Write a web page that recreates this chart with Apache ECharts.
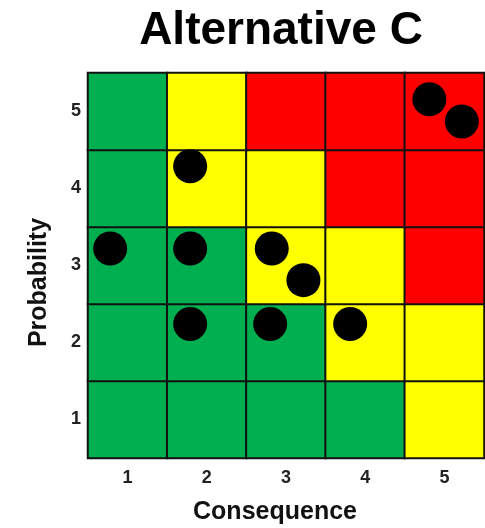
<!DOCTYPE html>
<html><head><meta charset="utf-8">
<script src="https://cdn.jsdelivr.net/npm/echarts@6/dist/echarts.min.js"></script>
<style>html,body{margin:0;padding:0;background:#fff}#c{width:485px;height:528px}</style>
</head><body><div id="c"></div>
<script>
const consequenceLabels = ['1','2','3','4','5'];
const probabilityLabels = ['1','2','3','4','5'];
// risk level per cell, rows from probability 1 (bottom) to 5 (top); 1=green,2=yellow,3=red
const riskRows = [
  [1,1,1,1,2],
  [1,1,1,2,2],
  [1,1,2,2,3],
  [1,2,2,3,3],
  [1,2,3,3,3]
];
// risk points [consequence, probability]
const pointConsequence = [4.81, 5.22, 1.79, 0.78, 1.79, 2.82, 3.22, 1.79, 2.80, 3.81];
const pointProbability = [5.16, 4.87, 4.29, 3.22, 3.22, 3.22, 2.81, 2.24, 2.24, 2.24];

const cells = [];
riskRows.forEach((row, yi) => row.forEach((v, xi) => cells.push([xi, yi, v])));
const points = pointConsequence.map((c, i) => [c, pointProbability[i]]);

const font = 'Liberation Sans, Arial, sans-serif';
const chart = echarts.init(document.getElementById('c'), null, {renderer: 'canvas'});
chart.setOption({
  animation: false,
  title: {
    text: 'Alternative C', left: 276, top: 3, textAlign: 'center',
    textStyle: {fontFamily: font, fontWeight: 'bold', fontSize: 46, color: '#000'}
  },
  grid: {left: 88, right: 1, top: 73, bottom: 70, outerBoundsMode: 'none', containLabel: false},
  visualMap: {
    show: false, type: 'piecewise', dimension: 2, seriesIndex: 0,
    pieces: [{value: 1, color: '#00B050'}, {value: 2, color: '#FFFF00'}, {value: 3, color: '#FF0000'}]
  },
  xAxis: [
    {type: 'category', data: consequenceLabels, name: 'Consequence', nameLocation: 'middle', nameGap: 42,
     nameTextStyle: {fontFamily: font, fontWeight: 'bold', fontSize: 25, color: '#111', padding: [0, 22, 0, 0]},
     axisLine: {show: false}, axisTick: {show: false},
     axisLabel: {fontFamily: font, fontWeight: 'bold', fontSize: 18, color: '#222', margin: 11}},
    {type: 'value', min: 0.5, max: 5.5, show: false}
  ],
  yAxis: [
    {type: 'category', data: probabilityLabels, name: 'Probability', nameLocation: 'middle', nameGap: 36,
     nameTextStyle: {fontFamily: font, fontWeight: 'bold', fontSize: 25, color: '#111', padding: [0, 34, 0, 0]},
     axisLine: {show: false}, axisTick: {show: false},
     axisLabel: {fontFamily: font, fontWeight: 'bold', fontSize: 18, color: '#222', margin: 7}},
    {type: 'value', min: 0.5, max: 5.5, show: false}
  ],
  series: [
    {type: 'heatmap', xAxisIndex: 0, yAxisIndex: 0, data: cells,
     itemStyle: {borderColor: '#111', borderWidth: 2}, emphasis: {disabled: true}},
    {type: 'scatter', xAxisIndex: 1, yAxisIndex: 1, data: points, symbolSize: 34,
     itemStyle: {color: '#000', opacity: 1}, emphasis: {disabled: true}, z: 5}
  ]
});
</script></body></html>
